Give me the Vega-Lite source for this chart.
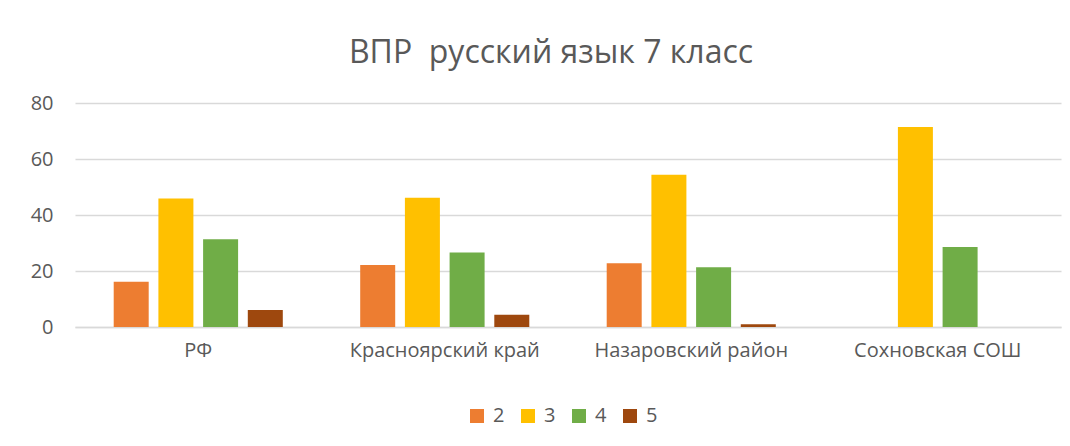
{
  "$schema": "https://vega.github.io/schema/vega-lite/v6.json",
  "width": 986,
  "height": 224,
  "autosize": "none",
  "padding": {"left": 75, "top": 103, "right": 9, "bottom": 119},
  "background": "white",
  "title": {
    "text": "ВПР\u00a0 русский язык 7 класс",
    "font": "Open Sans",
    "fontSize": 32,
    "fontWeight": "normal",
    "color": "#595959",
    "anchor": "middle",
    "baseline": "alphabetic",
    "offset": 37,
    "dy": 39,
    "dx": -17
  },
  "data": {
    "values": [
      {"region": "РФ", "grade": "2", "value": 16.2},
      {"region": "РФ", "grade": "3", "value": 45.9},
      {"region": "РФ", "grade": "4", "value": 31.3},
      {"region": "РФ", "grade": "5", "value": 6.1},
      {"region": "Красноярский край", "grade": "2", "value": 22.1},
      {"region": "Красноярский край", "grade": "3", "value": 46.2},
      {"region": "Красноярский край", "grade": "4", "value": 26.6},
      {"region": "Красноярский край", "grade": "5", "value": 4.4},
      {"region": "Назаровский район", "grade": "2", "value": 22.8},
      {"region": "Назаровский район", "grade": "3", "value": 54.4},
      {"region": "Назаровский район", "grade": "4", "value": 21.3},
      {"region": "Назаровский район", "grade": "5", "value": 1.0},
      {"region": "Сохновская СОШ", "grade": "2", "value": 0},
      {"region": "Сохновская СОШ", "grade": "3", "value": 71.4},
      {"region": "Сохновская СОШ", "grade": "4", "value": 28.6},
      {"region": "Сохновская СОШ", "grade": "5", "value": 0}
    ]
  },
  "mark": {"type": "bar"},
  "encoding": {
    "x": {
      "field": "region",
      "type": "nominal",
      "sort": ["РФ", "Красноярский край", "Назаровский район", "Сохновская СОШ"],
      "scale": {"paddingInner": 0.314, "paddingOuter": 0.157},
      "axis": {
        "title": null,
        "labelAngle": 0,
        "labelFont": "Open Sans",
        "labelFontSize": 20,
        "labelColor": "#595959",
        "labelPadding": 13,
        "labelLimit": 400,
        "domain": true,
        "domainColor": "#d9d9d9",
        "domainWidth": 1.3,
        "ticks": false,
        "grid": false
      }
    },
    "xOffset": {
      "field": "grade",
      "type": "nominal",
      "scale": {"paddingInner": 0.217, "paddingOuter": 0}
    },
    "y": {
      "field": "value",
      "type": "quantitative",
      "scale": {"domain": [0, 80], "nice": false},
      "axis": {
        "title": null,
        "values": [0, 20, 40, 60, 80],
        "labelFont": "Open Sans",
        "labelFontSize": 20,
        "labelColor": "#595959",
        "labelPadding": 22,
        "domain": false,
        "ticks": false,
        "grid": true,
        "gridColor": "#d9d9d9",
        "gridWidth": 1.3
      }
    },
    "color": {
      "field": "grade",
      "type": "nominal",
      "scale": {
        "domain": ["2", "3", "4", "5"],
        "range": ["#ED7D31", "#FFC000", "#70AD47", "#9E480E"]
      },
      "legend": {
        "title": null,
        "orient": "none",
        "direction": "horizontal",
        "legendX": 392,
        "legendY": 303,
        "symbolType": "square",
        "symbolSize": 196,
        "symbolStrokeWidth": 0,
        "labelFont": "Open Sans",
        "labelFontSize": 20,
        "labelColor": "#595959",
        "labelOffset": 6,
        "columnPadding": 13
      }
    }
  },
  "config": {
    "view": {"stroke": null}
  }
}
